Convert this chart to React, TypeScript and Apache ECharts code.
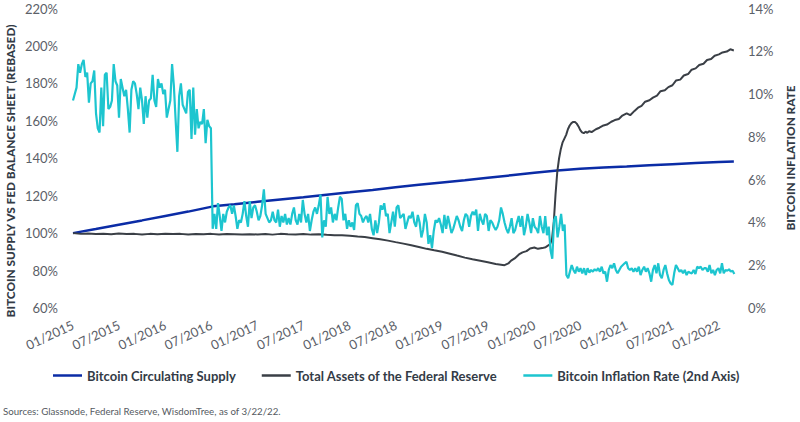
import React, { useEffect, useRef } from "react";
import * as echarts from "echarts";

// Bitcoin circulating supply, rebased to 100% on 1 Jan 2015
const supplyDates = [
  "2015-01-01", "2015-04-01", "2015-07-01", "2015-10-01",
  "2016-01-01", "2016-04-01", "2016-07-09", "2016-10-01",
  "2017-01-01", "2017-04-01", "2017-07-01", "2017-10-01",
  "2018-01-01", "2018-04-01", "2018-07-01", "2018-10-01",
  "2019-01-01", "2019-04-01", "2019-07-01", "2019-10-01",
  "2020-01-01", "2020-04-01", "2020-05-11", "2020-07-01", "2020-10-01",
  "2021-01-01", "2021-04-01", "2021-07-01", "2021-10-01",
  "2022-01-01", "2022-03-01",
];
const supplyValues = [
  100.0, 102.2, 104.5, 106.8,
  109.2, 111.5, 114.3, 115.4,
  116.7, 118.0, 119.2, 120.5,
  121.8, 123.1, 124.5, 125.8,
  127.1, 128.3, 129.6, 130.9,
  132.2, 133.4, 133.9, 134.4, 135.0,
  135.6, 136.2, 136.8, 137.4,
  138.0, 138.3,
];

// Total assets of the Federal Reserve, rebased to 100% on 1 Jan 2015
const fedDates = [
  "2015-01-01", "2015-02-01", "2015-03-01", "2015-04-01", "2015-05-01", "2015-06-01",
  "2015-07-01", "2015-08-01", "2015-09-01", "2015-10-01", "2015-11-01", "2015-12-01",
  "2016-01-01", "2016-02-01", "2016-03-01", "2016-04-01", "2016-05-01", "2016-06-01",
  "2016-07-01", "2016-08-01", "2016-09-01", "2016-10-01", "2016-11-01", "2016-12-01",
  "2017-01-01", "2017-02-01", "2017-03-01", "2017-04-01", "2017-05-01", "2017-06-01",
  "2017-07-01", "2017-08-01", "2017-09-01", "2017-10-01", "2017-11-01", "2017-12-01",
  "2018-01-01", "2018-02-01", "2018-03-01", "2018-04-01", "2018-05-01", "2018-06-01",
  "2018-07-01", "2018-08-01", "2018-09-01", "2018-10-01", "2018-11-01", "2018-12-01",
  "2019-01-01", "2019-02-01", "2019-03-01", "2019-04-01", "2019-05-01", "2019-06-01",
  "2019-07-01", "2019-08-01", "2019-09-05", "2019-09-20", "2019-10-01", "2019-10-15",
  "2019-11-01", "2019-11-15", "2019-12-01", "2019-12-15",
  "2020-01-01", "2020-01-15", "2020-02-01", "2020-02-15",
  "2020-03-04", "2020-03-11", "2020-03-18", "2020-03-25", "2020-04-01", "2020-04-08",
  "2020-04-15", "2020-04-22", "2020-04-29", "2020-05-06", "2020-05-13", "2020-05-20",
  "2020-05-27", "2020-06-03", "2020-06-10", "2020-06-17", "2020-06-24", "2020-07-01",
  "2020-07-08", "2020-07-15", "2020-07-22", "2020-07-29", "2020-08-05",
  "2020-08-15", "2020-09-01", "2020-09-15", "2020-10-01", "2020-10-15", "2020-11-01",
  "2020-11-15", "2020-12-01", "2020-12-15",
  "2021-01-01", "2021-01-15", "2021-02-01", "2021-02-15", "2021-03-01", "2021-03-15",
  "2021-04-01", "2021-04-15", "2021-05-01", "2021-05-15", "2021-06-01", "2021-06-15",
  "2021-07-01", "2021-07-15", "2021-08-01", "2021-08-15", "2021-09-01", "2021-09-15",
  "2021-10-01", "2021-10-15", "2021-11-01", "2021-11-15", "2021-12-01", "2021-12-15",
  "2022-01-01", "2022-01-15", "2022-02-01", "2022-02-15", "2022-03-01",
];
const fedValues = [
  100.0, 99.6, 99.8, 99.5, 99.7, 99.4,
  99.8, 99.5, 99.6, 99.3, 99.6, 99.4,
  99.7, 99.5, 99.6, 99.3, 99.5, 99.4,
  99.6, 99.3, 99.5, 99.4, 99.2, 99.4,
  99.3, 99.5, 99.2, 99.6, 99.4, 99.3,
  99.5, 99.2, 99.4, 99.1, 98.9, 98.8,
  98.6, 98.2, 97.9, 97.3, 96.7, 96.0,
  95.2, 94.4, 93.5, 92.6, 91.6, 90.8,
  90.0, 89.0, 88.0, 86.9, 86.0, 85.2,
  84.4, 83.5, 82.9, 83.8, 85.3, 86.5,
  88.6, 89.7, 90.4, 91.8,
  92.3, 91.6, 92.0, 92.5,
  94.2, 96.9, 106.0, 121.0, 133.0, 140.0,
  145.0, 148.5, 150.5, 152.5, 155.5, 157.5,
  158.8, 159.4, 159.4, 158.5, 157.0, 155.0,
  153.8, 153.4, 154.2, 153.6, 154.4,
  154.0, 155.5, 156.3, 157.5, 158.0, 159.5,
  160.4, 161.0, 162.8,
  164.0, 163.0, 165.3, 167.0, 168.0, 170.2,
  171.0, 172.4, 173.5, 175.8, 176.3, 178.0,
  179.0, 181.5, 182.0, 184.2, 185.0, 187.3,
  188.0, 189.8, 190.5, 192.5, 193.0, 194.8,
  195.5, 196.5, 197.0, 198.2, 197.6,
];

// Bitcoin annualised inflation rate (%), weekly from the first week of 2015
const inflationStart = "2015-01-01";
const inflationBeforeHalving2016 = [
  9.7, 10.0, 10.3, 11.4, 11.0, 11.4, 11.6, 10.8, 11.0, 9.6,
  10.5, 10.6, 11.1, 9.1, 8.4, 8.2, 10.3, 8.5, 10.9, 11.0,
  9.3, 9.4, 9.7, 11.4, 10.6, 10.4, 8.9, 10.7, 10.3, 9.9,
  10.2, 9.3, 8.2, 10.2, 10.6, 10.5, 10.0, 9.3, 10.3, 9.7,
  8.6, 9.9, 8.9, 9.7, 9.8, 10.9, 9.7, 9.4, 10.7, 10.3,
  10.5, 10.0, 10.2, 8.9, 9.3, 9.7, 11.4, 10.4, 8.8, 7.3,
  9.9, 10.5, 9.5, 9.3, 9.1, 10.1, 10.2, 7.9, 10.3, 8.1,
  9.3, 8.4, 8.7, 8.6, 9.3, 7.7, 8.8, 8.5, 8.4,
];
const inflationBetweenHalvings = [
  3.7, 4.4, 3.7, 4.9, 4.3, 3.6, 4.4, 4.0, 4.5, 4.7,
  4.8, 4.4, 4.8, 4.3, 3.7, 4.1, 4.0, 4.4, 5.0, 4.3,
  3.8, 5.0, 4.2, 4.7, 4.8, 4.5, 4.1, 4.3, 4.8, 5.55,
  4.4, 4.2, 4.0, 4.1, 4.5, 4.1, 4.0, 4.6, 3.8, 4.3,
  4.0, 4.4, 3.9, 4.2, 3.9, 4.4, 4.7, 4.1, 3.9, 4.4,
  4.0, 5.05, 4.4, 4.0, 4.4, 3.6, 4.1,
  4.5, 4.7, 4.4, 4.8, 5.3, 3.3, 4.1, 3.8, 5.2,
  4.4, 4.7, 4.0, 4.4, 4.1, 4.7, 5.2, 5.1, 4.1, 4.4,
  3.7, 4.1, 3.8, 4.0, 3.65, 4.8, 4.9, 4.4, 4.3,
  4.0, 4.2, 4.3, 4.0, 4.4, 3.7, 3.4, 4.1, 3.5, 4.0,
  4.8, 4.6, 4.9, 4.3, 4.4, 3.5, 4.0, 4.5, 3.8,
  4.7, 4.8, 4.2, 4.3, 4.4, 3.7, 4.0, 4.3, 4.2,
  4.5, 4.0, 3.8, 4.35, 4.0, 3.3, 3.65, 4.4, 4.0, 3.0,
  3.4, 2.8, 3.6, 4.1,
  4.0, 4.2, 3.9, 3.5, 4.35, 3.7, 4.3, 3.9, 3.5,
  3.7, 4.0, 4.3, 4.1, 3.8, 3.6, 4.1, 4.4, 4.3,
  3.8, 4.3, 4.5, 4.35, 4.6, 3.6, 4.4, 4.1, 3.9, 4.4,
  4.3, 3.6, 4.1, 4.0, 3.8, 3.65, 3.8, 4.1, 4.7,
  4.4, 4.0, 3.7, 3.5, 3.8, 4.2, 3.5, 3.65, 4.0,
  4.3, 3.8, 4.3, 3.4, 3.8, 4.4, 4.0, 3.5, 4.2, 3.8,
  3.7, 3.5, 4.3, 3.8, 3.5, 4.3, 3.4, 3.8,
  2.7, 2.3, 4.1, 4.3, 3.3, 3.8, 4.4, 3.6, 3.9,
];
const inflationAfterHalving2020 = [
  1.54, 1.39, 1.7, 2.01, 1.78, 1.62, 1.93, 1.7, 1.86, 1.62,
  1.86, 1.54, 1.86, 1.65, 1.78, 1.7, 1.81, 1.74, 1.86,
  1.7, 1.93, 1.62, 1.7, 1.23, 1.78, 2.01, 1.86, 2.09,
  1.78, 1.62, 1.78, 1.93, 2.01, 2.09, 2.16, 1.86, 1.78, 1.86,
  1.7, 1.86, 1.7, 1.93, 1.54, 1.78, 1.93, 1.7, 1.86,
  1.62, 1.23, 1.78, 2.01, 1.62, 2.09, 1.54, 1.39, 1.78, 2.01,
  1.62, 1.31, 1.15, 1.08, 1.62, 2.01, 1.86, 1.7, 1.78, 1.62,
  1.78, 1.54, 1.7, 1.65, 1.62, 1.78, 1.59, 1.93, 1.86,
  1.93, 1.78, 1.86, 1.86, 1.7, 2.01, 1.62, 1.78, 1.54,
  1.78, 1.86, 1.62, 2.09, 1.62, 1.78, 1.74, 1.81, 1.7, 1.74, 1.59,
];

const seriesNames = [
  "Bitcoin Circulating Supply",
  "Total Assets of the Federal Reserve",
  "Bitcoin Inflation Rate (2nd Axis)",
];
const seriesColors = ["#0b2ca6", "#3a3f46", "#1dc5cf"];

const leftAxisTicks = { min: 60, max: 220, step: 20 };
const rightAxisTicks = { min: 0, max: 14, step: 2 };
const xRange = { min: 2015, max: 2022.25, step: 0.5 };

const leftAxisTitle = "BITCOIN SUPPLY VS FED BALANCE SHEET (REBASED)";
const rightAxisTitle = "BITCOIN INFLATION RATE";
const sourceNote = "Sources: Glassnode, Federal Reserve, WisdomTree, as of 3/22/22.";

const DAY = 86400000;

// Calendar date -> fractional year, so the x axis can be a plain value axis
function toYear(ms: number): number {
  const d = new Date(ms);
  const y = d.getUTCFullYear();
  const start = Date.UTC(y, 0, 1);
  const end = Date.UTC(y + 1, 0, 1);
  return y + (ms - start) / (end - start);
}
const isoToMs = (iso: string) => Date.parse(iso + "T00:00:00Z");

function pairs(dates: string[], values: number[]) {
  return dates.map((d, i) => [toYear(isoToMs(d)), values[i]]);
}

function weekly(startIso: string, values: number[]) {
  const t0 = isoToMs(startIso);
  return values.map((v, i) => [toYear(t0 + i * 7 * DAY), v]);
}

const FONT = "Lato, 'Noto Sans', sans-serif";
const LABEL_COLOR = "#5b6068";
const TITLE_COLOR = "#333b46";

export default function App() {
  const ref = useRef<HTMLDivElement>(null);

  useEffect(() => {
    document.body.style.margin = "0";
    if (!ref.current) return;
    const chart = echarts.init(ref.current, undefined, { renderer: "svg" });

    const inflation = weekly(inflationStart, [
      ...inflationBeforeHalving2016,
      ...inflationBetweenHalvings,
      ...inflationAfterHalving2020,
    ]);

    const hiddenAxisParts = {
      axisLine: { show: false },
      axisTick: { show: false },
      splitLine: { show: false },
    };

    chart.setOption({
      animation: false,
      textStyle: { fontFamily: FONT },
      grid: { left: 73, right: 58, top: 8.5, bottom: 114 },
      xAxis: {
        type: "value",
        min: xRange.min,
        max: xRange.max,
        interval: xRange.step,
        ...hiddenAxisParts,
        axisLabel: {
          rotate: 25,
          margin: 16,
          fontSize: 13,
          color: LABEL_COLOR,
          fontFamily: FONT,
          showMaxLabel: false,
          formatter: (v: number) => {
            const y = Math.floor(v + 1e-6);
            const half = v - y > 0.25 ? "07" : "01";
            return `${half}/${y}`;
          },
        },
      },
      yAxis: [
        {
          type: "value",
          min: leftAxisTicks.min,
          max: leftAxisTicks.max,
          interval: leftAxisTicks.step,
          ...hiddenAxisParts,
          axisLabel: {
            margin: 15,
            fontSize: 13,
            color: LABEL_COLOR,
            fontFamily: FONT,
            formatter: "{value}%",
          },
        },
        {
          type: "value",
          position: "right",
          min: rightAxisTicks.min,
          max: rightAxisTicks.max,
          interval: rightAxisTicks.step,
          ...hiddenAxisParts,
          axisLabel: {
            margin: 6,
            fontSize: 13,
            color: LABEL_COLOR,
            fontFamily: FONT,
            formatter: "{value}%",
          },
        },
      ],
      legend: {
        data: seriesNames,
        left: 48,
        top: 364,
        icon: "rect",
        itemWidth: 29,
        itemHeight: 2.5,
        itemGap: 26,
        textStyle: {
          fontSize: 13,
          fontWeight: "bold",
          color: TITLE_COLOR,
          fontFamily: FONT,
        },
      },
      graphic: [
        {
          type: "text",
          x: 10,
          y: 171,
          rotation: Math.PI / 2,
          style: {
            text: leftAxisTitle,
            fill: TITLE_COLOR,
            font: `900 11.8px ${FONT}`,
            align: "center",
            verticalAlign: "middle",
          },
        },
        {
          type: "text",
          x: 790,
          y: 158,
          rotation: Math.PI / 2,
          style: {
            text: rightAxisTitle,
            fill: TITLE_COLOR,
            font: `900 11.8px ${FONT}`,
            align: "center",
            verticalAlign: "middle",
          },
        },
        {
          type: "text",
          left: 3,
          top: 406,
          style: {
            text: sourceNote,
            fill: "#555a61",
            font: `9.7px ${FONT}`,
          },
        },
      ],
      series: [
        {
          name: seriesNames[0],
          type: "line",
          showSymbol: false,
          color: seriesColors[0],
          lineStyle: { width: 2.5, color: seriesColors[0] },
          data: pairs(supplyDates, supplyValues),
          z: 2,
        },
        {
          name: seriesNames[1],
          type: "line",
          showSymbol: false,
          color: seriesColors[1],
          lineStyle: { width: 2, color: seriesColors[1] },
          data: pairs(fedDates, fedValues),
          z: 3,
        },
        {
          name: seriesNames[2],
          type: "line",
          yAxisIndex: 1,
          showSymbol: false,
          color: seriesColors[2],
          lineStyle: { width: 2.2, color: seriesColors[2] },
          data: inflation,
          z: 4,
        },
      ],
    });

    return () => chart.dispose();
  }, []);

  return <div ref={ref} style={{ width: 800, height: 422 }} />;
}
